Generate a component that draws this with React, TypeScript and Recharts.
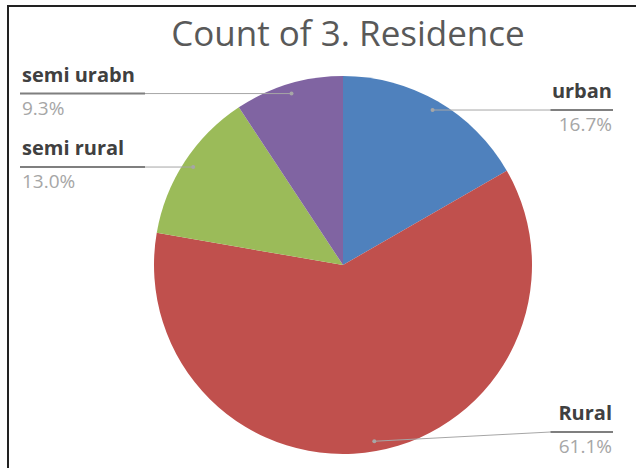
import React from 'react';
import { PieChart, Pie, Cell } from 'recharts';

const categories = ['urban', 'Rural', 'semi rural', 'semi urabn'];
const shares = [16.7, 61.1, 13.0, 9.3];
const colors = ['#4F81BD', '#C0504D', '#9BBB59', '#8064A2'];

const chartData = categories.map((name, i) => ({ name, value: shares[i] }));

const RADIAN = Math.PI / 180;
const LEFT_X = 20;
const RIGHT_X = 613;
const MAX_LINE_Y = 432;

function renderLabel(props: any) {
  const { cx, cy, midAngle, outerRadius, name, value } = props;
  const r = outerRadius - 10;
  const dx = cx + r * Math.cos(-midAngle * RADIAN);
  const dy = cy + r * Math.sin(-midAngle * RADIAN);
  const right = dx > cx;
  const lineY = Math.min(dy, MAX_LINE_Y);
  const textW = name.length * 12.5;
  const endX = right ? RIGHT_X : LEFT_X;
  const darkStart = right ? RIGHT_X - textW : LEFT_X + textW;
  const textX = right ? RIGHT_X - 1 : LEFT_X + 2;
  const anchor = right ? 'end' : 'start';

  return (
    <g>
      <polyline
        points={`${dx},${dy} ${darkStart},${lineY} ${endX},${lineY}`}
        fill="none"
        stroke="#a6a6a6"
        strokeWidth={1}
      />
      <line x1={darkStart} y1={lineY} x2={endX} y2={lineY} stroke="#7f7f7f" strokeWidth={2} />
      <circle cx={dx} cy={dy} r={2} fill="#a6a6a6" />
      <text
        x={textX}
        y={lineY - 12}
        textAnchor={anchor}
        fontFamily="Open Sans"
        fontWeight={700}
        fontSize={20}
        fill="#404040"
      >
        {name}
      </text>
      <text
        x={textX}
        y={lineY + 21}
        textAnchor={anchor}
        fontFamily="Open Sans"
        fontSize={19}
        fill="#a6a6a6"
      >
        {value.toFixed(1)}%
      </text>
    </g>
  );
}

export default function App() {
  return (
    <div style={{ position: 'absolute', left: 0, top: 0, width: 636, height: 468, background: '#fff', overflow: 'hidden' }}>
      <div
        style={{
          position: 'absolute',
          left: 7,
          top: 5,
          right: -10,
          bottom: -10,
          borderTop: '2px solid #222',
          borderLeft: '2px solid #222',
        }}
      />
      <div
        style={{
          position: 'absolute',
          left: 0,
          width: 696,
          top: 15,
          textAlign: 'center',
          fontFamily: 'Open Sans',
          fontSize: 35,
          lineHeight: '35px',
          color: '#595959',
        }}
      >
        Count of 3. Residence
      </div>
      <div style={{ position: 'absolute', left: 0, top: 0 }}>
        <PieChart width={636} height={468} margin={{ top: 0, right: 0, bottom: 0, left: 0 }}>
          <Pie
            data={chartData}
            dataKey="value"
            nameKey="name"
            cx={343}
            cy={265}
            outerRadius={189}
            startAngle={90}
            endAngle={-270}
            stroke="none"
            label={renderLabel}
            labelLine={false}
            isAnimationActive={false}
          >
            {chartData.map((d, i) => (
              <Cell key={d.name} fill={colors[i]} />
            ))}
          </Pie>
        </PieChart>
      </div>
    </div>
  );
}
